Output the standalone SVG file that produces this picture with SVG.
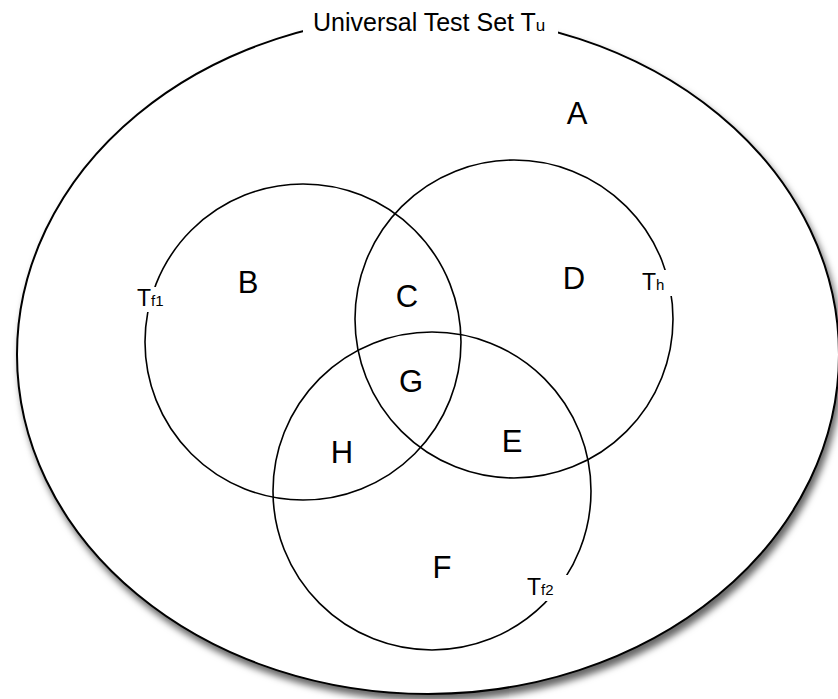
<svg xmlns="http://www.w3.org/2000/svg" width="838" height="699" viewBox="0 0 838 699">
  <defs>
    <filter id="shadow" x="-10%" y="-10%" width="120%" height="125%">
      <feDropShadow dx="3" dy="6" stdDeviation="3.5" flood-color="#000" flood-opacity="0.6"/>
    </filter>
  </defs>
  <style>
    .set { fill: none; stroke: #000; stroke-width: 1.6; }
    .region { font-family: "Liberation Sans", Arial, sans-serif; font-size: 31px; fill: #000; text-anchor: middle; }
    .lbl { font-family: "Liberation Sans", Arial, sans-serif; font-size: 23px; fill: #000; }
    .sub { font-size: 15px; }
    .bg { fill: #fff; stroke: none; }
  </style>
  <rect x="0" y="0" width="838" height="699" fill="#fff"/>

  <g id="universe">
    <ellipse cx="428" cy="354.5" rx="411" ry="339.5" fill="#fff" stroke="#000" stroke-width="2" filter="url(#shadow)"/>
    <rect class="bg" x="303" y="4" width="255" height="36"/>
    <text class="lbl" x="313" y="31" style="font-size:25px">Universal Test Set T<tspan style="font-size:17px">u</tspan></text>
    <text class="region" x="577" y="124">A</text>
  </g>

  <g id="connectors"></g>

  <g id="Tf1">
    <circle class="set" cx="303" cy="342" r="158"/>
    <rect class="bg" x="134" y="287" width="32" height="25"/>
    <text class="lbl" x="137" y="306">T<tspan class="sub">f1</tspan></text>
  </g>

  <g id="Th">
    <circle class="set" cx="514" cy="319" r="159"/>
    <rect class="bg" x="639" y="270" width="42" height="26"/>
    <text class="lbl" x="642" y="290">T<tspan class="sub">h</tspan></text>
  </g>

  <g id="Tf2">
    <circle class="set" cx="432" cy="491" r="159"/>
    <rect class="bg" x="524" y="575" width="48" height="26"/>
    <text class="lbl" x="527" y="595">T<tspan class="sub">f2</tspan></text>
  </g>

  <g id="regions">
    <text class="region" x="248" y="293">B</text>
    <text class="region" x="407" y="307">C</text>
    <text class="region" x="574" y="289">D</text>
    <text class="region" x="411" y="392">G</text>
    <text class="region" x="342" y="463">H</text>
    <text class="region" x="512" y="452">E</text>
    <text class="region" x="442" y="578">F</text>
  </g>
</svg>
